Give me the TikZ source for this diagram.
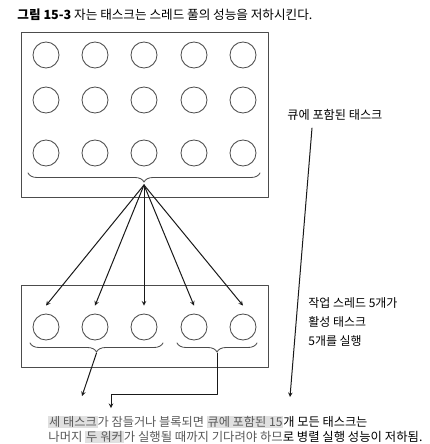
\documentclass[tikz,border=0pt]{standalone}
\usepackage{fontspec}
\setmainfont{Noto Sans CJK KR}
\usetikzlibrary{decorations.pathreplacing}
\newcommand{\hl}[1]{{\setlength{\fboxsep}{0.8pt}\colorbox{black!12}{#1}}}
\newcommand{\fitw}[2]{\resizebox{#1}{!}{#2}}
\begin{document}
\begin{tikzpicture}[x=1pt,y=-1pt,line join=round,line cap=round,>=stealth,line width=0.85pt,
	task/.style={circle,draw=black!70,minimum size=26pt,inner sep=0pt},
	brc/.style={decorate,decoration={brace,mirror,amplitude=9pt},draw=black!70},
	txt/.style={anchor=west,inner sep=0pt,font=\fontsize{12}{17.5}\selectfont}]
	%그림 15-3
	\useasboundingbox (0,0) rectangle (429,444);
	\node[txt] (title) at (17,15) {\fitw{295pt}{\textbf{그림 15-3} 자는 태스크는 스레드 풀의 성능을 저하시킨다.}};
	\draw[black!70] (21,32) rectangle (268,197) (21,285) rectangle (268,367);
	\foreach \c/\x in {1/46,2/95,3/144,4/194,5/243}{
		\foreach \r/\y in {1/55,2/100,3/153}
		\node[task] (q\r\c) at (\x,\y) {};
		\node[task] (w\c) at (\x,327) {};}
	\draw[brc] (28,173) -- (260,173) coordinate[pos=.5,yshift=-12pt] (qt);
	\draw[brc] (30,343) -- (163,343) coordinate[pos=.5,yshift=-10pt] (lt);
	\draw[brc] (177,343) -- (257,343) coordinate[pos=.5,yshift=-10pt] (rt);
	\foreach \c in {1,...,5}
	\draw[->,black!90,line width=1pt] (qt) -- ([yshift=8pt]w\c.north);
	\node[txt] (ql) at (287,115) {\fitw{95pt}{큐에 포함된 태스크}};
	\node[txt] (wl) at (308,323) {\fitw{89pt}{\begin{tabular}{@{}l@{}}작업 스레드 5개가\\[2pt]활성 태스크\\[2pt]5개를 실행\end{tabular}}};
	\node[txt,text=black!65] (l1) at (48,422) {\fitw{319pt}{\hl{세 태스크}가 잠들거나 블록되면 \hl{큐에 포함된 15}{\color{black}개 모든 태스크는}}};
	\node[txt,text=black!65] (l2) at (48,437) {\fitw{374pt}{나머지 \hl{두 워커}가 실행될 때까지 기다려야 하므{\color{black}로 병렬 실행 성능이 저하됨.}}};
	\coordinate (a1) at (82,396);
	\coordinate (a2) at (111,408);
	\coordinate (qs) at (312,128);
	\coordinate (a3) at (290,397);
	\draw[->,black!90,line width=1pt] (lt) -- (a1);
	\draw[->,black!90,line width=1pt] (rt) -- ++(0,41) -| (a2);
	\draw[->,black!90,line width=1pt] (qs) -- (a3);
\end{tikzpicture}
\end{document}
